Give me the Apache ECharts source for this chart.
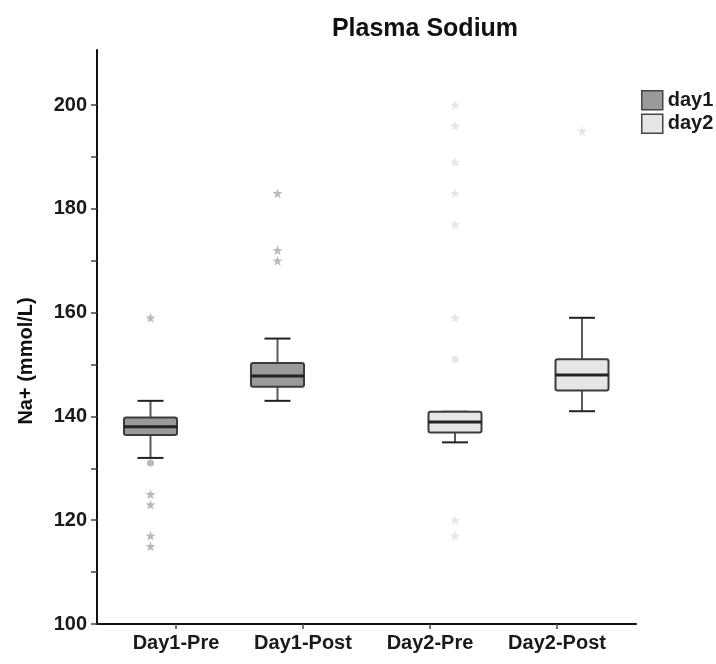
<!DOCTYPE html>
<html>
<head>
<meta charset="utf-8">
<script src="https://cdn.jsdelivr.net/npm/echarts@6/dist/echarts.min.js"></script>
<style>
  html, body { margin: 0; padding: 0; background: #fff; }
  #chart { width: 716px; height: 664px; }
</style>
</head>
<body>
<div id="chart"></div>
<script>
// categories on the x axis
const categories = ['Day1-Pre', 'Day1-Post', 'Day2-Pre', 'Day2-Post'];
const yTicks = [100, 110, 120, 130, 140, 150, 160, 170, 180, 190, 200];
const yLabels = [100, 120, 140, 160, 180, 200];

// [category index, min, Q1, median, Q3, max]
const day1Boxes = [
  [0, 132, 136.4, 138, 139.8, 143],
  [1, 143, 145.7, 147.8, 150.3, 155]
];
const day2Boxes = [
  [2, 135, 136.9, 138.9, 140.9, 140.9],
  [3, 141, 145, 148, 151, 159]
];

// outliers (circle) and extremes (star)
const day1Outliers = [[0, 131]];
const day1Extremes = [[0, 159], [0, 125], [0, 123], [0, 117], [0, 115], [1, 183], [1, 172], [1, 170]];
const day2Outliers = [[2, 151]];
const day2Extremes = [[2, 200], [2, 196], [2, 189], [2, 183], [2, 177], [2, 159], [2, 120], [2, 117], [3, 195]];

const FONT = "'Liberation Sans', Arial, sans-serif";
const STAR = 'path://M0,-10L2.35,-3.24L9.51,-3.09L3.8,1.24L5.88,8.09L0,4L-5.88,8.09L-3.8,1.24L-9.51,-3.09L-2.35,-3.24Z';

const chart = echarts.init(document.getElementById('chart'));

// box drawn with pixel shift so day1 sits left of tick, day2 right of tick
const makeBox = (shift, fill) => (params, api) => {
  const x = api.value(0);
  const lo = api.coord([x, api.value(1)]);
  const q1 = api.coord([x, api.value(2)]);
  const md = api.coord([x, api.value(3)]);
  const q3 = api.coord([x, api.value(4)]);
  const hi = api.coord([x, api.value(5)]);
  const cx = lo[0] + shift;
  const hw = 26.5;
  const cap = 13;
  const whisker = { stroke: '#5a5a5a', lineWidth: 2 };
  const capStyle = { stroke: '#222', lineWidth: 2 };
  return {
    type: 'group',
    children: [
      { type: 'line', shape: { x1: cx, y1: hi[1], x2: cx, y2: q3[1] }, style: whisker },
      { type: 'line', shape: { x1: cx, y1: q1[1], x2: cx, y2: lo[1] }, style: whisker },
      { type: 'line', shape: { x1: cx - cap, y1: hi[1], x2: cx + cap, y2: hi[1] }, style: capStyle },
      { type: 'line', shape: { x1: cx - cap, y1: lo[1], x2: cx + cap, y2: lo[1] }, style: capStyle },
      {
        type: 'rect',
        shape: { x: cx - hw, y: q3[1], width: hw * 2, height: q1[1] - q3[1], r: 2 },
        style: { fill: fill, stroke: '#3c3c3c', lineWidth: 2 }
      },
      { type: 'line', shape: { x1: cx - hw, y1: md[1], x2: cx + hw, y2: md[1] }, style: { stroke: '#222', lineWidth: 3 } }
    ]
  };
};

const option = {
  animation: false,
  title: {
    text: 'Plasma Sodium',
    left: 420,
    top: 12,
    textAlign: 'center',
    textStyle: { fontFamily: FONT, fontWeight: 'bold', fontSize: 25, color: '#111' }
  },
  legend: {
    orient: 'vertical',
    left: 636,
    top: 85,
    itemWidth: 21,
    itemHeight: 19,
    itemGap: 3,
    textStyle: { fontFamily: FONT, fontWeight: 'bold', fontSize: 20, color: '#1a1a1a' },
    data: [
      { name: 'day1', icon: 'rect', itemStyle: { color: '#9a9a9a', borderColor: '#444', borderWidth: 1.5 } },
      { name: 'day2', icon: 'rect', itemStyle: { color: '#e6e6e6', borderColor: '#444', borderWidth: 1.5 } }
    ]
  },
  graphic: [{
    type: 'text',
    x: 26,
    y: 361,
    rotation: Math.PI / 2,
    style: {
      text: 'Na+ (mmol/L)',
      font: 'bold 20px ' + FONT,
      fill: '#111',
      align: 'center',
      verticalAlign: 'middle'
    }
  }],
  grid: { left: 97, top: 50, width: 539, height: 574 },
  xAxis: {
    type: 'value',
    min: -0.622,
    max: 3.622,
    splitLine: { show: false },
    axisLine: { show: true, onZero: false, lineStyle: { color: '#111', width: 2 } },
    axisTick: { show: true, customValues: [0, 1, 2, 3], length: 5, lineStyle: { color: '#444', width: 1.5 } },
    axisLabel: {
      customValues: [0, 1, 2, 3],
      margin: 9,
      fontFamily: FONT,
      fontWeight: 'bold',
      fontSize: 20,
      color: '#1a1a1a',
      formatter: (v) => categories[Math.round(v)]
    }
  },
  yAxis: {
    type: 'value',
    min: 100,
    max: 210.6,
    splitLine: { show: false },
    axisLine: { show: true, onZero: false, lineStyle: { color: '#111', width: 2 } },
    axisTick: { show: true, customValues: yTicks, length: 6, lineStyle: { color: '#444', width: 1.5 } },
    axisLabel: {
      customValues: yLabels,
      margin: 10,
      fontFamily: FONT,
      fontWeight: 'bold',
      fontSize: 20,
      color: '#1a1a1a'
    }
  },
  series: [
    {
      name: 'day1',
      type: 'custom',
      itemStyle: { color: '#9a9a9a' },
      renderItem: makeBox(-25.5, '#9a9a9a'),
      encode: { x: 0, y: [1, 2, 3, 4, 5] },
      data: day1Boxes,
      z: 3
    },
    {
      name: 'day2',
      type: 'custom',
      itemStyle: { color: '#e6e6e6' },
      renderItem: makeBox(25, '#e6e6e6'),
      encode: { x: 0, y: [1, 2, 3, 4, 5] },
      data: day2Boxes,
      z: 3
    },
    {
      name: 'day1',
      type: 'scatter',
      symbol: STAR,
      symbolSize: 10,
      symbolOffset: [-25.5, 0],
      itemStyle: { color: '#a8a8a8' },
      data: day1Extremes,
      z: 2
    },
    {
      name: 'day1',
      type: 'scatter',
      symbol: 'circle',
      symbolSize: 7,
      symbolOffset: [-25.5, 0],
      itemStyle: { color: '#a8a8a8' },
      data: day1Outliers,
      z: 2
    },
    {
      name: 'day2',
      type: 'scatter',
      symbol: STAR,
      symbolSize: 10,
      symbolOffset: [25, 0],
      itemStyle: { color: '#e0e0e0' },
      data: day2Extremes,
      z: 2
    },
    {
      name: 'day2',
      type: 'scatter',
      symbol: 'circle',
      symbolSize: 7,
      symbolOffset: [25, 0],
      itemStyle: { color: '#e0e0e0' },
      data: day2Outliers,
      z: 2
    }
  ]
};

chart.setOption(option);
</script>
</body>
</html>
